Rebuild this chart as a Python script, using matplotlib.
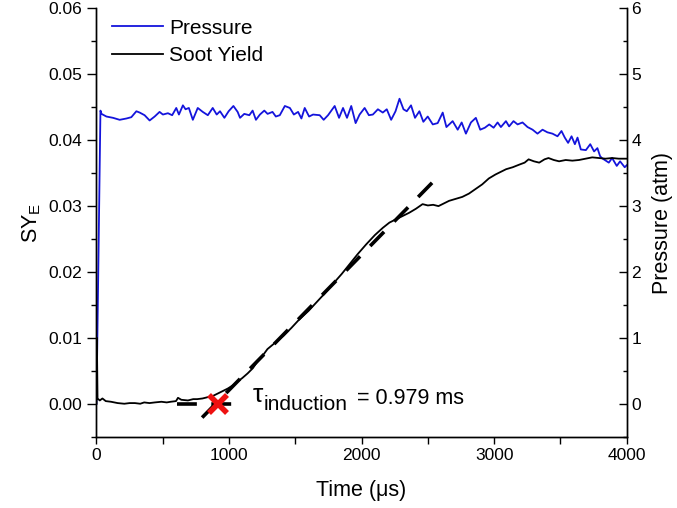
import matplotlib
matplotlib.use('Agg')
import matplotlib.pyplot as plt

plt.rcParams['font.family'] = ['Liberation Sans', 'DejaVu Sans']
plt.rcParams['mathtext.fontset'] = 'custom'
plt.rcParams['mathtext.rm'] = 'Liberation Sans'
plt.rcParams['mathtext.it'] = 'Liberation Sans:italic'

# soot yield (left axis), time in microseconds
soot_t = [0, 3, 8, 25, 45, 70, 110, 160, 210, 250, 290, 330, 360, 400, 440, 490,
          530, 560, 600, 615, 640, 690, 730, 760, 800, 840, 880, 910, 950, 990,
          1030, 1060, 1100, 1140, 1180, 1210, 1250, 1290, 1350, 1410, 1470, 1530,
          1600, 1660, 1720, 1780, 1850, 1910, 1970, 2035, 2100, 2160, 2210, 2260,
          2310, 2360, 2410, 2460, 2500, 2540, 2580, 2610, 2660, 2710, 2760, 2810,
          2860, 2910, 2960, 3010, 3050, 3090, 3140, 3190, 3230, 3260, 3300, 3340,
          3380, 3410, 3450, 3490, 3540, 3590, 3640, 3690, 3740, 3790, 3840, 3890,
          3940, 4000]
soot_y = [0.0000, 0.0100, 0.0008, 0.0005, 0.0008, 0.0004, 0.0003, 0.0001, 0.0000,
          0.0001, 0.0001, 0.0000, 0.0002, 0.0001, 0.0002, 0.0003, 0.0002, 0.0003,
          0.0004, 0.0009, 0.0006, 0.0005, 0.0007, 0.0007, 0.0008, 0.0010, 0.0012,
          0.0015, 0.0019, 0.0023, 0.0028, 0.0033, 0.0039, 0.0046, 0.0054, 0.0063,
          0.0072, 0.0083, 0.0093, 0.0103, 0.0115, 0.0128, 0.0141, 0.0154, 0.0167,
          0.0181, 0.0197, 0.0212, 0.0227, 0.0242, 0.0256, 0.0267, 0.0275, 0.0280,
          0.0285, 0.0290, 0.0296, 0.0303, 0.0301, 0.0302, 0.0300, 0.0303, 0.0308,
          0.0311, 0.0314, 0.0319, 0.0326, 0.0333, 0.0342, 0.0348, 0.0352, 0.0356,
          0.0359, 0.0363, 0.0366, 0.0371, 0.0368, 0.0366, 0.0371, 0.0373, 0.0370,
          0.0368, 0.0370, 0.0369, 0.0370, 0.0372, 0.0374, 0.0373, 0.0372, 0.0373,
          0.0372, 0.0372]

# pressure (right axis), atm
p_t = [0, 30, 38, 75, 125, 175, 226, 263, 301, 326, 363, 401, 439, 476, 501, 539,
       571, 602, 622, 652, 672, 697, 727, 764, 802, 840, 877, 907, 932, 965, 997,
       1033, 1065, 1083, 1115, 1153, 1178, 1203, 1233, 1266, 1291, 1328, 1353, 1383,
       1421, 1459, 1489, 1521, 1546, 1571, 1604, 1634, 1684, 1714, 1747, 1797, 1830,
       1860, 1890, 1922, 1955, 1985, 2023, 2055, 2085, 2123, 2160, 2190, 2223, 2256,
       2286, 2316, 2341, 2373, 2403, 2436, 2466, 2499, 2537, 2574, 2612, 2640, 2687,
       2725, 2755, 2787, 2825, 2862, 2895, 2930, 2963, 2996, 3026, 3051, 3089, 3113,
       3146, 3177, 3214, 3252, 3290, 3327, 3365, 3402, 3440, 3478, 3508, 3533, 3558,
       3584, 3609, 3629, 3654, 3692, 3725, 3754, 3779, 3799, 3812, 3865, 3890, 3925,
       3950, 3985, 4000]
p_val = [0.0, 4.45, 4.40, 4.36, 4.34, 4.31, 4.33, 4.35, 4.44, 4.42, 4.38, 4.30, 4.36,
         4.43, 4.39, 4.41, 4.38, 4.49, 4.39, 4.53, 4.47, 4.49, 4.31, 4.49, 4.43, 4.38,
         4.49, 4.39, 4.44, 4.34, 4.44, 4.52, 4.43, 4.34, 4.40, 4.38, 4.45, 4.31, 4.39,
         4.45, 4.40, 4.43, 4.36, 4.38, 4.52, 4.49, 4.39, 4.43, 4.33, 4.49, 4.36, 4.39,
         4.38, 4.31, 4.38, 4.52, 4.34, 4.49, 4.34, 4.52, 4.26, 4.39, 4.49, 4.38, 4.39,
         4.47, 4.42, 4.47, 4.31, 4.44, 4.63, 4.47, 4.44, 4.53, 4.34, 4.44, 4.28, 4.36,
         4.24, 4.26, 4.42, 4.20, 4.29, 4.16, 4.27, 4.10, 4.27, 4.34, 4.16, 4.19, 4.24,
         4.19, 4.27, 4.20, 4.29, 4.21, 4.29, 4.24, 4.27, 4.20, 4.16, 4.10, 4.16, 4.12,
         4.10, 4.06, 4.14, 4.04, 3.96, 4.06, 3.94, 4.04, 3.86, 3.85, 3.94, 3.83, 3.88,
         3.76, 3.73, 3.66, 3.73, 3.61, 3.68, 3.59, 3.62]

# induction time construction
fit_t = [797, 2564]
fit_y = [-0.0021, 0.0342]
base_t = [609, 1060]
base_y = [0.0, 0.0]
tau_t = 915
tau_y = 0.0

fig = plt.figure(figsize=(6.77, 5.08), dpi=100)
ax = fig.add_axes([0.1425, 0.1404, 0.7832, 0.8429])
ax2 = ax.twinx()
ax.set_zorder(ax2.get_zorder() + 1)
ax.patch.set_visible(False)

lp, = ax2.plot(p_t, p_val, color='#1414DC', lw=1.3)
ls, = ax.plot(soot_t, soot_y, color='black', lw=1.3)
ax.plot(fit_t, fit_y, color='black', lw=2.6, dashes=(5.5, 4))
ax.plot(base_t, base_y, color='black', lw=2.6, dashes=(5.5, 4))
ax.plot(tau_t, tau_y, marker='x', color='#EE1111', ms=13, mew=4)
ax.text(1180, 0.0002, 'τ', fontsize=19, va='baseline')
ax.text(1262, -0.0009, 'induction', fontsize=15, va='baseline')
ax.text(1965, -0.0001, '= 0.979 ms', fontsize=15.5, va='baseline')

ax.set_xlim(0, 4000)
ax.set_ylim(-0.005, 0.06)
ax2.set_ylim(-0.5, 6)
ax.set_xticks([0, 1000, 2000, 3000, 4000])
ax.set_xticks([500, 1500, 2500, 3500], minor=True)
ax.set_yticks([0.00, 0.01, 0.02, 0.03, 0.04, 0.05, 0.06])
ax.set_yticks([-0.005, 0.005, 0.015, 0.025, 0.035, 0.045, 0.055], minor=True)
ax.set_yticklabels(['0.00', '0.01', '0.02', '0.03', '0.04', '0.05', '0.06'])
ax2.set_yticks([0, 1, 2, 3, 4, 5, 6])
ax2.set_yticks([-0.5, 0.5, 1.5, 2.5, 3.5, 4.5, 5.5], minor=True)

for a in (ax, ax2):
    a.spines['top'].set_visible(False)
    for s in a.spines.values():
        s.set_linewidth(1.0)
ax.tick_params(axis='y', which='major', direction='out', length=6.5, width=1, labelsize=12.5)
ax.tick_params(axis='y', which='minor', direction='out', length=3.5, width=1)
ax.tick_params(axis='x', which='both', direction='out', length=5, width=1, labelsize=12.5)
ax2.tick_params(axis='y', which='major', direction='in', length=5.5, width=1, labelsize=12.5)
ax2.tick_params(axis='y', which='minor', direction='in', length=3, width=1)

ax.set_xlabel('Time (μs)', fontsize=15.5, labelpad=12)
ax.set_ylabel(r'SY$_\mathregular{E}$', fontsize=15.5, labelpad=4)
ax2.set_ylabel('Pressure (atm)', fontsize=15.5, labelpad=8)

ax.legend([lp, ls], ['Pressure', 'Soot Yield'], loc='upper left', frameon=False,
          fontsize=15, handlelength=2.45, handletextpad=0.3, labelspacing=0.42,
          bbox_to_anchor=(0.0, 1.013), borderaxespad=0.35)

fig.savefig('out.png', dpi=100)
